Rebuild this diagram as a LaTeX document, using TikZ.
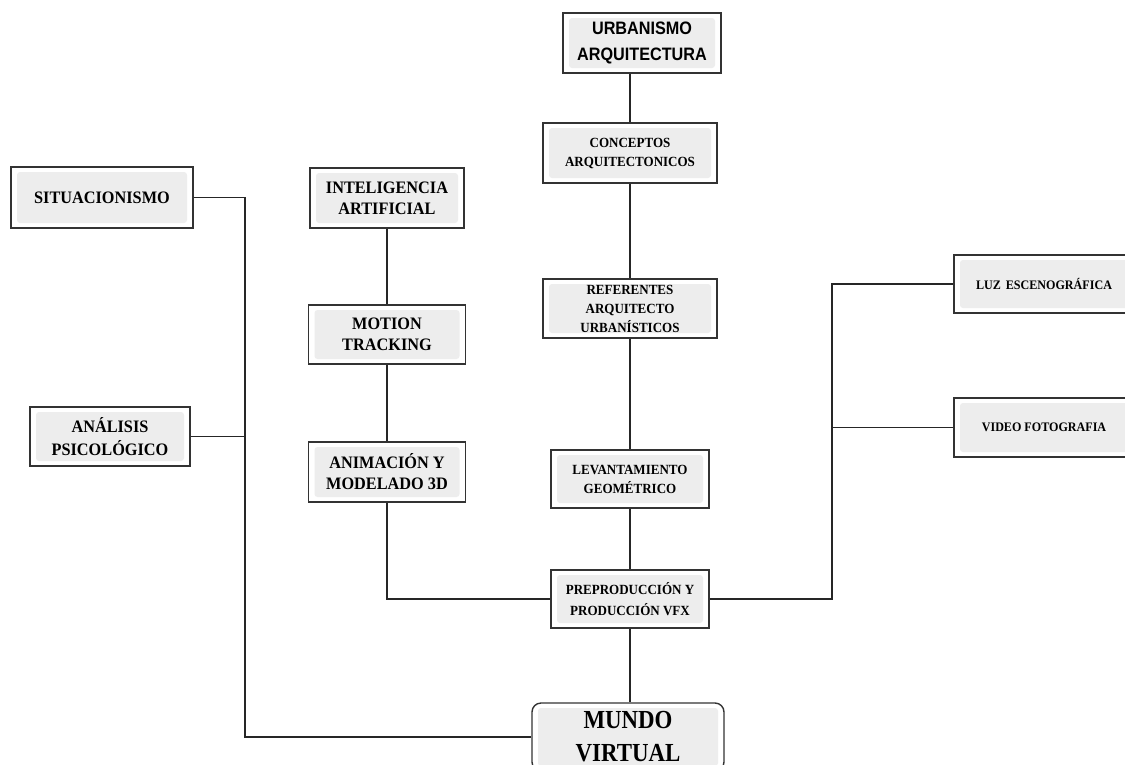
\documentclass[tikz,border=0pt]{standalone}
\usepackage{fontspec}
\setmainfont{Liberation Serif}[FakeStretch=0.93]
\newfontfamily\narrowsans{Liberation Sans}[FakeStretch=0.9]
\newfontfamily\narrowserif{Liberation Serif}[FakeStretch=0.88]
\begin{document}
\begin{tikzpicture}[x=1pt,y=-1pt,
  box/.style={draw=black!80, line width=1.4pt, fill=white, align=center, inner sep=0pt,
    path picture={\fill[black!7, rounded corners=3pt]
      ([shift={(6pt,5pt)}]path picture bounding box.south west) rectangle
      ([shift={(-6pt,-5pt)}]path picture bounding box.north east);}},
  rbox/.style={box, rounded corners=9pt},
  wire/.style={draw=black!85, line width=1.2pt},
  fA/.style={font=\bfseries\fontsize{17.5}{21}\selectfont},
  fB/.style={font=\bfseries\fontsize{14}{19}\selectfont},
  fC/.style={font=\bfseries\fontsize{13}{16}\selectfont},
  fS/.style={font=\narrowsans\bfseries\fontsize{18}{26}\selectfont},
  fM/.style={font=\narrowserif\bfseries\fontsize{26}{33}\selectfont}
]
\useasboundingbox (0,0) rectangle (1125,764);
\clip (0,0) rectangle (1125,764);

\node[box, fS, minimum width=158pt, minimum height=60pt] (urb) at (642,43) {URBANISMO\\ARQUITECTURA};
\node[box, fB, minimum width=174pt, minimum height=60pt] (con) at (630,153) {CONCEPTOS\\ARQUITECTONICOS};
\node[box, fB, minimum width=174pt, minimum height=59pt] (ref) at (630,308.5) {REFERENTES\\ARQUITECTO\\URBANÍSTICOS};
\node[box, fB, minimum width=158pt, minimum height=58pt] (lev) at (630,479) {LEVANTAMIENTO\\GEOMÉTRICO};
\node[box, fB, font=\bfseries\fontsize{14}{21}\selectfont, minimum width=158pt, minimum height=58pt] (pre) at (630,599) {PREPRODUCCIÓN Y\\PRODUCCIÓN VFX};
\node[rbox, fM, minimum width=192pt, minimum height=68pt] (mun) at (628,737) {MUNDO\\VIRTUAL};

\node[box, fA, minimum width=182pt, minimum height=61pt] (sit) at (102,197.5) {SITUACIONISMO};
\node[box, fA, font=\bfseries\fontsize{17.5}{23}\selectfont, minimum width=160pt, minimum height=59pt] (ana) at (110,436.5) {ANÁLISIS\\PSICOLÓGICO};

\node[box, fA, minimum width=154pt, minimum height=60pt] (int) at (387,198) {INTELIGENCIA\\ARTIFICIAL};
\node[box, fA, minimum width=157pt, minimum height=59pt] (mot) at (387,334.5) {MOTION\\TRACKING};
\node[box, fA, minimum width=157pt, minimum height=60pt] (ani) at (387,472) {ANIMACIÓN Y\\MODELADO 3D};

\node[box, fC, minimum width=180pt, minimum height=58pt] (luz) at (1044,284) {LUZ\hspace{5pt}ESCENOGRÁFICA};
\node[box, fC, minimum width=180pt, minimum height=59pt] (vid) at (1044,427.5) {VIDEO FOTOGRAFIA};

\coordinate (bus) at (245,737);
\coordinate (rb) at (832,284);

\draw[wire] (con.north) -- (con.north |- urb.south);
\draw[wire] (con.south) -- (ref.north);
\draw[wire] (ref.south) -- (lev.north);
\draw[wire] (lev.south) -- (pre.north);
\draw[wire] (pre.south) -- (pre.south |- mun.north);

\draw[wire] (sit.east) -| (bus) -- (bus -| mun.west);
\draw[wire] (ana.east) -- (ana.east -| bus);

\draw[wire] (int.south) -- (mot.north);
\draw[wire] (mot.south) -- (ani.north);
\draw[wire] (ani.south) |- (pre.west);

\draw[wire] (pre.east) -| (rb) -- (luz.west);
\draw[wire] (vid.west) -- (vid.west -| rb);
\end{tikzpicture}
\end{document}
